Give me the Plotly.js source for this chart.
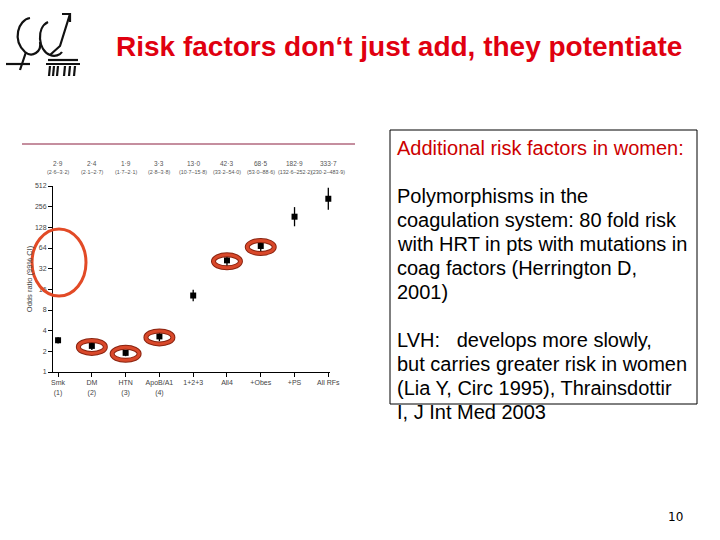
<!DOCTYPE html>
<html>
<head>
<meta charset="utf-8">
<script src="https://cdn.plot.ly/plotly-3.0.1.min.js"></script>
<style>html,body{margin:0;padding:0;background:#fff;}#chart{width:720px;height:540px;}</style>
</head>
<body>
<div id="chart"></div>
<script>
// ---- data ----
const categories = ["Smk", "DM", "HTN", "ApoB/A1", "1+2+3", "All4", "+Obes", "+PS", "All RFs"];
const categoryNotes = ["(1)", "(2)", "(3)", "(4)", "", "", "", "", ""];
const oddsRatio = [2.9, 2.4, 1.9, 3.3, 13.0, 42.3, 68.5, 182.9, 333.7];
const ciLow  = [2.6, 2.1, 1.7, 2.8, 10.7, 33.2, 53.0, 132.6, 230.2];
const ciHigh = [3.2, 2.7, 2.1, 3.8, 15.8, 54.0, 88.6, 252.2, 483.9];
const yTicks = [1, 2, 4, 8, 16, 32, 64, 128, 256, 512];
const highlighted = [1, 2, 3, 5, 6]; // indices circled in red

const titleText = "Risk factors don\u2018t just add, they potentiate";
const boxHeading = "Additional risk factors in women:";
const boxLines = ["", "Polymorphisms in the", "coagulation system: 80 fold risk",
  "with HRT in pts with mutations in", "coag factors (Herrington D,", "2001)", "",
  "LVH:   develops more slowly,", "but carries greater risk in women",
  "(Lia Y, Circ 1995), Thrainsdottir", "I, J Int Med 2003"];

// ---- geometry helpers (plot area pixels) ----
const L = 53, R = 330, T = 186, B = 372;
const XR = [-0.15, 8.05], YR = [0, Math.log10(512)];
const px = p => (p - L) / (R - L);
const py = p => (B - p) / (B - T);
const dataToPaperX = v => (v - XR[0]) / (XR[1] - XR[0]);
const dataToPaperY = v => (Math.log10(v) - YR[0]) / (YR[1] - YR[0]);
const fmt = v => v.toFixed(1).replace('.', '\u00B7');
const xIdx = categories.map((c, i) => i);

const trace = {
  x: xIdx, y: oddsRatio, type: 'scatter', mode: 'markers',
  marker: {symbol: 'square', size: 6, color: '#000'},
  error_y: {type: 'data', symmetric: false,
    array: oddsRatio.map((v, i) => ciHigh[i] - v),
    arrayminus: oddsRatio.map((v, i) => v - ciLow[i]),
    color: '#000', thickness: 1.3, width: 0},
  hoverinfo: 'x+y', cliponaxis: false
};

const annotations = [];
// OR labels above plot
categories.forEach((c, i) => {
  annotations.push({x: i, y: py(163), xref: 'x', yref: 'paper', showarrow: false,
    text: fmt(oddsRatio[i]), font: {family: 'Liberation Sans, Arial', size: 6.5, color: '#555'},
    xanchor: 'center', yanchor: 'middle'});
  annotations.push({x: i, y: py(172), xref: 'x', yref: 'paper', showarrow: false,
    text: '(' + fmt(ciLow[i]) + '\u2013' + fmt(ciHigh[i]) + ')',
    font: {family: 'Liberation Sans Narrow, Liberation Sans, Arial', size: 5.4, color: '#555'},
    xanchor: 'center', yanchor: 'middle'});
});
// title
annotations.push({x: px(398.5), y: py(46), xref: 'paper', yref: 'paper', showarrow: false,
  text: '<b>' + titleText + '</b>', font: {family: 'Liberation Sans, Arial', size: 28, color: '#e00010'},
  xanchor: 'center', yanchor: 'middle'});
// box text
annotations.push({x: px(395), y: py(148), xref: 'paper', yref: 'paper', showarrow: false,
  text: boxHeading, font: {family: 'Liberation Sans, Arial', size: 20, color: '#cc0000'},
  xanchor: 'left', yanchor: 'middle'});
boxLines.forEach((t, i) => {
  if (!t) return;
  annotations.push({x: px(395), y: py(148 + 24 * (i + 1)), xref: 'paper', yref: 'paper', showarrow: false,
    text: t.replace(/ {2,}/g, m => '\u00A0'.repeat(m.length - 1) + ' '),
    font: {family: 'Liberation Sans, Arial', size: 20, color: '#000'},
    xanchor: 'left', yanchor: 'middle'});
});
// page number
annotations.push({x: px(675), y: py(517), xref: 'paper', yref: 'paper', showarrow: false,
  text: '10', font: {family: 'DejaVu Sans', size: 12, color: '#000'}, xanchor: 'center', yanchor: 'middle'});

const shapes = [];
// separator line above the chart
shapes.push({type: 'line', xref: 'paper', yref: 'paper', x0: px(22), x1: px(355), y0: py(144), y1: py(144),
  line: {color: '#8b1e3f', width: 1}});
// text box border
shapes.push({type: 'rect', xref: 'paper', yref: 'paper', x0: px(390), x1: px(697), y0: py(130), y1: py(404),
  line: {color: '#000', width: 1}, fillcolor: 'rgba(0,0,0,0)'});
// big red ellipse around axis label
shapes.push({type: 'circle', xref: 'paper', yref: 'paper', x0: px(32), x1: px(86), y0: py(229), y1: py(296),
  line: {color: '#e24a26', width: 3}, layer: 'above'});
// small red ellipses around highlighted points (dark rim + orange ring)
const hw = 13.5 / (R - L), hTop = 5.5 / (B - T), hBot = 7.5 / (B - T);
highlighted.forEach(i => {
  const cx = dataToPaperX(i), cy = dataToPaperY(oddsRatio[i]);
  [['#8a2410', 5], ['#d9482a', 3]].forEach(([col, w]) => {
    shapes.push({type: 'circle', xref: 'paper', yref: 'paper',
      x0: cx - hw, x1: cx + hw, y0: cy - hBot, y1: cy + hTop,
      line: {color: col, width: w}, fillcolor: 'rgba(0,0,0,0)', layer: 'above'});
  });
});
// logo (rough sketch)
const logo = [
  'M 30 18 C 18 20, 12 40, 25 52 C 32 58, 42 52, 40 42',
  'M 26 52 L 20 70', 'M 6 64 L 30 64',
  'M 48 22 C 36 28, 38 50, 50 55 C 55 57, 60 55, 62 52',
  'M 50 55 L 60 46 L 70 14', 'M 62 14 L 70 14 L 70 22',
  'M 48 60 L 78 60', 'M 46 64 L 80 64',
  'M 50 66 L 49 76', 'M 54 66 L 53 76', 'M 58 66 L 57 76', 'M 65 66 L 64 76', 'M 70 66 L 69 76', 'M 75 66 L 74 76'
];
logo.forEach(p => {
  const conv = p.replace(/(-?\d+(?:\.\d+)?) (-?\d+(?:\.\d+)?)/g, (m, a, b) => px(+a) + ' ' + py(+b));
  shapes.push({type: 'path', xref: 'paper', yref: 'paper', path: conv, line: {color: '#111', width: 2.2}});
});

const layout = {
  width: 720, height: 540,
  margin: {l: L, r: 720 - R, t: T, b: 540 - B, pad: 0},
  paper_bgcolor: '#fff', plot_bgcolor: '#fff',
  showlegend: false,
  font: {family: 'Liberation Sans, Arial', color: '#444'},
  xaxis: {
    range: XR, tickmode: 'array', tickvals: xIdx,
    ticktext: categories.map((c, i) => categoryNotes[i] ? c + '<br>' + categoryNotes[i] : c),
    showline: true, linecolor: '#000', linewidth: 1, ticks: 'outside', ticklen: 4, tickcolor: '#000',
    showgrid: false, zeroline: false, tickfont: {size: 7, color: '#444'}, fixedrange: true
  },
  yaxis: {
    type: 'log', range: YR, tickmode: 'array', tickvals: yTicks,
    ticktext: yTicks.map(String),
    showline: true, linecolor: '#000', linewidth: 1, ticks: 'outside', ticklen: 4, tickcolor: '#000',
    showgrid: false, zeroline: false, tickfont: {size: 7, color: '#444'},
    title: {text: 'Odds ratio (99% CI)', font: {size: 7.5, color: '#444'}, standoff: 1}, fixedrange: true
  },
  annotations: annotations,
  shapes: shapes
};

Plotly.newPlot('chart', [trace], layout, {displayModeBar: false, staticPlot: true});
</script>
</body>
</html>
